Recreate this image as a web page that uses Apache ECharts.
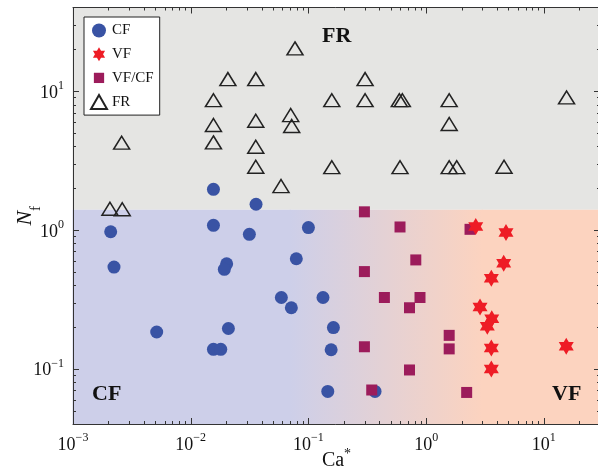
<!DOCTYPE html>
<html><head><meta charset="utf-8">
<script src="https://cdn.jsdelivr.net/npm/echarts@6/dist/echarts.min.js"></script>
<style>html,body{margin:0;padding:0;background:#fff}#c{width:598px;height:468px}</style>
</head><body><div id="c"></div>
<script>
// ---- data (Ca*, N_f) ----
const cfCa = [0.00209, 0.00223, 0.00514, 0.0156, 0.0315, 0.100, 0.0202, 0.0193, 0.0789, 0.0589, 0.0716, 0.133, 0.0209, 0.0156, 0.0180, 0.0156, 0.0359, 0.163, 0.156, 0.146, 0.368];
const cfNf = [0.97, 0.54, 0.184, 1.08, 0.93, 1.04, 0.57, 0.52, 0.62, 0.326, 0.275, 0.326, 0.195, 0.138, 0.138, 1.96, 1.53, 0.198, 0.137, 0.0687, 0.0687];
const vfCa = [2.64, 4.77, 4.56, 3.58, 2.87, 3.61, 3.31, 3.58, 3.58, 15.5];
const vfNf = [1.06, 0.957, 0.576, 0.449, 0.278, 0.229, 0.202, 0.141, 0.0995, 0.145];
const vfcfCa = [0.299, 0.600, 2.36, 0.817, 0.299, 0.442, 0.887, 0.722, 1.57, 1.57, 0.299, 0.722, 0.345, 2.21];
const vfcfNf = [1.35, 1.05, 1.01, 0.608, 0.501, 0.326, 0.326, 0.275, 0.174, 0.139, 0.144, 0.098, 0.0703, 0.0675];
const frCa = [0.00259, 0.00206, 0.00262, 0.0156, 0.0156, 0.0156, 0.0207, 0.0357, 0.0357, 0.0357, 0.0357, 0.0585, 0.0707, 0.0721, 0.0769, 0.158, 0.303, 0.303, 0.592, 0.628, 1.57, 1.57, 15.6, 0.158, 0.600, 1.57, 1.82, 4.59];
const frNf = [4.25, 1.42, 1.41, 8.6, 5.7, 4.27, 12.2, 12.2, 6.11, 3.97, 2.85, 2.07, 6.72, 5.6, 20.3, 8.6, 12.2, 8.6, 8.6, 8.6, 8.6, 5.79, 9.0, 2.83, 2.83, 2.83, 2.83, 2.85];

// axis ranges and region boundaries
const xRange = [0.001, 30];
const yRange = [0.04, 40];
const nfBoundary = 1.4;
const caBlend = [0.07, 3];
const xMajorTicks = [0.001, 0.01, 0.1, 1, 10];
const yMajorTicks = [0.1, 1, 10];
const xMinorTicks = [];
for (let d = -3; d <= 1; d++) for (let k = 2; k <= 9; k++) { const v = k * Math.pow(10, d); if (v < xRange[1]) xMinorTicks.push(v); }
const yMinorTicks = [];
for (let d = -2; d <= 1; d++) for (let k = 2; k <= 9; k++) { const v = k * Math.pow(10, d); if (v > yRange[0] && v < yRange[1]) yMinorTicks.push(v); }

const serif = 'Liberation Serif';
const pairs = (a, b) => a.map((v, i) => [v, b[i]]);
const starPath = 'path://M0,-1L0.2887,-0.5L0.866,-0.5L0.5774,0L0.866,0.5L0.2887,0.5L0,1L-0.2887,0.5L-0.866,0.5L-0.5774,0L-0.866,-0.5L-0.2887,-0.5Z';

function powLabel(v) {
  const e = Math.log10(v), r = Math.round(e);
  if (Math.abs(e - r) > 1e-6) return '';
  return '{b|10}{s|' + (r < 0 ? '\u2212' + (-r) : String(r)) + '}';
}
const tickRich = {
  b: { fontFamily: serif, fontSize: 18, color: '#111', lineHeight: 22, verticalAlign: 'bottom' },
  s: { fontFamily: serif, fontSize: 12, color: '#111', lineHeight: 12, verticalAlign: 'top' }
};

const chart = echarts.init(document.getElementById('c'), null, { renderer: 'canvas' });
const axisCommon = {
  type: 'log', logBase: 10,
  axisLine: { show: true, lineStyle: { color: '#333', width: 1 } },
  axisTick: { show: false },
  splitLine: { show: false },
  z: 10
};
// tick marks drawn as a custom series through the axis scales
function tickSeries(axis, values, len) {
  return {
    type: 'custom', silent: true, z: 30, clip: false, xAxisIndex: 0, yAxisIndex: 0,
    data: axis === 'x' ? values.map(v => [v, 1]) : values.map(v => [0.01, v]),
    encode: { x: 0, y: 1 },
    renderItem: function (params, api) {
      const cs = params.coordSys;
      const p = api.coord([api.value(0), api.value(1)]);
      const st = { stroke: '#333', lineWidth: 1 };
      if (axis === 'x') {
        const x = Math.round(p[0]) + 0.5;
        const yb = cs.y + cs.height, yt = cs.y;
        return { type: 'group', children: [
          { type: 'line', shape: { x1: x, y1: yb, x2: x, y2: yb - len }, style: st },
          { type: 'line', shape: { x1: x, y1: yt, x2: x, y2: yt + len }, style: st }
        ]};
      }
      const y = Math.round(p[1]) + 0.5;
      const xl = cs.x, xr = cs.x + cs.width;
      return { type: 'group', children: [
        { type: 'line', shape: { x1: xl, y1: y, x2: xl + len, y2: y }, style: st },
        { type: 'line', shape: { x1: xr, y1: y, x2: xr - len, y2: y }, style: st }
      ]};
    }
  };
}
function regionSeries() {
  const rects = [
    [xRange[0], nfBoundary, xRange[1], yRange[1], 0],
    [xRange[0], yRange[0], caBlend[0], nfBoundary, 1],
    [caBlend[0], yRange[0], caBlend[1], nfBoundary, 2],
    [caBlend[1], yRange[0], xRange[1], nfBoundary, 3]
  ];
  const fills = ['#e5e5e3', '#cdcfe9',
    new echarts.graphic.LinearGradient(0, 0, 1, 0, [{ offset: 0, color: '#cdcfe9' }, { offset: 1, color: '#fcd3bf' }]),
    '#fcd3bf'];
  return {
    type: 'custom', silent: true, z: 0, clip: false, xAxisIndex: 0, yAxisIndex: 0,
    data: rects, encode: { x: [0, 2], y: [1, 3] },
    renderItem: function (params, api) {
      const a = api.coord([api.value(0), api.value(1)]);
      const b = api.coord([api.value(2), api.value(3)]);
      const x0 = Math.min(a[0], b[0]), y0 = Math.min(a[1], b[1]);
      return { type: 'rect', shape: { x: x0 - 0.5, y: y0, width: Math.abs(b[0] - a[0]) + 1, height: Math.abs(b[1] - a[1]) },
        style: { fill: fills[api.value(4)], stroke: null } };
    }
  };
}

const option = {
  animation: false,
  backgroundColor: '#fff',
  grid: { left: 73, top: 7.5, width: 527, height: 416.5, containLabel: false, outerBoundsMode: 'none' },
  xAxis: [
    Object.assign({}, axisCommon, {
      position: 'bottom', min: xRange[0], max: xRange[1], splitNumber: 5,
      axisLabel: { formatter: powLabel, rich: tickRich, margin: 8, showMinLabel: true, showMaxLabel: true },
      name: '{c|Ca}{s|*}', nameLocation: 'middle', nameGap: 23, nameMoveOverlap: false,
      nameTextStyle: { rich: {
        c: { fontFamily: serif, fontSize: 20, color: '#111', lineHeight: 24, verticalAlign: 'bottom' },
        s: { fontFamily: serif, fontSize: 14, color: '#111', lineHeight: 14, verticalAlign: 'top' } } }
    }),
    Object.assign({}, axisCommon, {
      position: 'top', min: xRange[0], max: xRange[1], splitNumber: 5, axisLabel: { show: false }
    })
  ],
  yAxis: [
    Object.assign({}, axisCommon, {
      position: 'left', min: yRange[0], max: yRange[1], splitNumber: 3,
      axisLabel: { formatter: powLabel, rich: tickRich, margin: 9, showMinLabel: true, showMaxLabel: true },
      name: '{n|N}{f|f}', nameLocation: 'middle', nameGap: 29, nameMoveOverlap: false,
      nameTextStyle: { rich: {
        n: { fontFamily: serif, fontStyle: 'italic', fontSize: 22, color: '#111', lineHeight: 24, verticalAlign: 'top' },
        f: { fontFamily: serif, fontSize: 15, color: '#111', lineHeight: 30, verticalAlign: 'bottom' } } }
    }),
    Object.assign({}, axisCommon, {
      position: 'right', min: yRange[0], max: yRange[1], splitNumber: 3, axisLabel: { show: false }
    })
  ],
  legend: {
    orient: 'vertical', left: 84, top: 17, z: 40,
    backgroundColor: '#fff', borderColor: '#222', borderWidth: 1, borderRadius: 0,
    padding: [6, 6, 5, 6], itemGap: 8.7, itemWidth: 16, itemHeight: 14,
    textStyle: { fontFamily: serif, fontSize: 15, color: '#111' },
    data: [
      { name: 'CF', icon: 'circle' },
      { name: 'VF', icon: starPath },
      { name: 'VF/CF', icon: 'path://M0,0M2,2L13,2L13,13L2,13ZM15,15' },
      { name: 'FR', icon: 'triangle' }
    ]
  },
  series: [
    regionSeries(),
    { type: 'scatter', name: 'CF', data: pairs(cfCa, cfNf), symbol: 'circle', symbolSize: 13, z: 3,
      itemStyle: { color: '#3953a4', opacity: 1 } },
    { type: 'scatter', name: 'VF/CF', data: pairs(vfcfCa, vfcfNf), symbol: 'rect', symbolSize: 11, z: 4,
      itemStyle: { color: '#9c1c5b', opacity: 1 } },
    { type: 'scatter', name: 'VF', data: pairs(vfCa, vfNf), symbol: starPath, symbolSize: [15, 17], z: 5,
      itemStyle: { color: '#ee1c25', opacity: 1 } },
    { type: 'scatter', name: 'FR', data: pairs(frCa, frNf), symbol: 'triangle', symbolSize: [16, 13], z: 6,
      itemStyle: { color: 'rgba(0,0,0,0)', borderColor: '#222', borderWidth: 1.5, opacity: 1 } },
    tickSeries('x', xMinorTicks, 3),
    tickSeries('y', yMinorTicks, 3),
    tickSeries('x', xMajorTicks, 6),
    tickSeries('y', yMajorTicks, 6)
  ],
  graphic: [
    { type: 'text', left: 322, top: 25, z: 50, style: { text: 'FR', font: 'bold 22px "Liberation Serif"', fill: '#111' } },
    { type: 'text', left: 92, top: 383, z: 50, style: { text: 'CF', font: 'bold 22px "Liberation Serif"', fill: '#111' } },
    { type: 'text', left: 552, top: 383, z: 50, style: { text: 'VF', font: 'bold 22px "Liberation Serif"', fill: '#111' } }
  ]
};
chart.setOption(option);
</script></body></html>
